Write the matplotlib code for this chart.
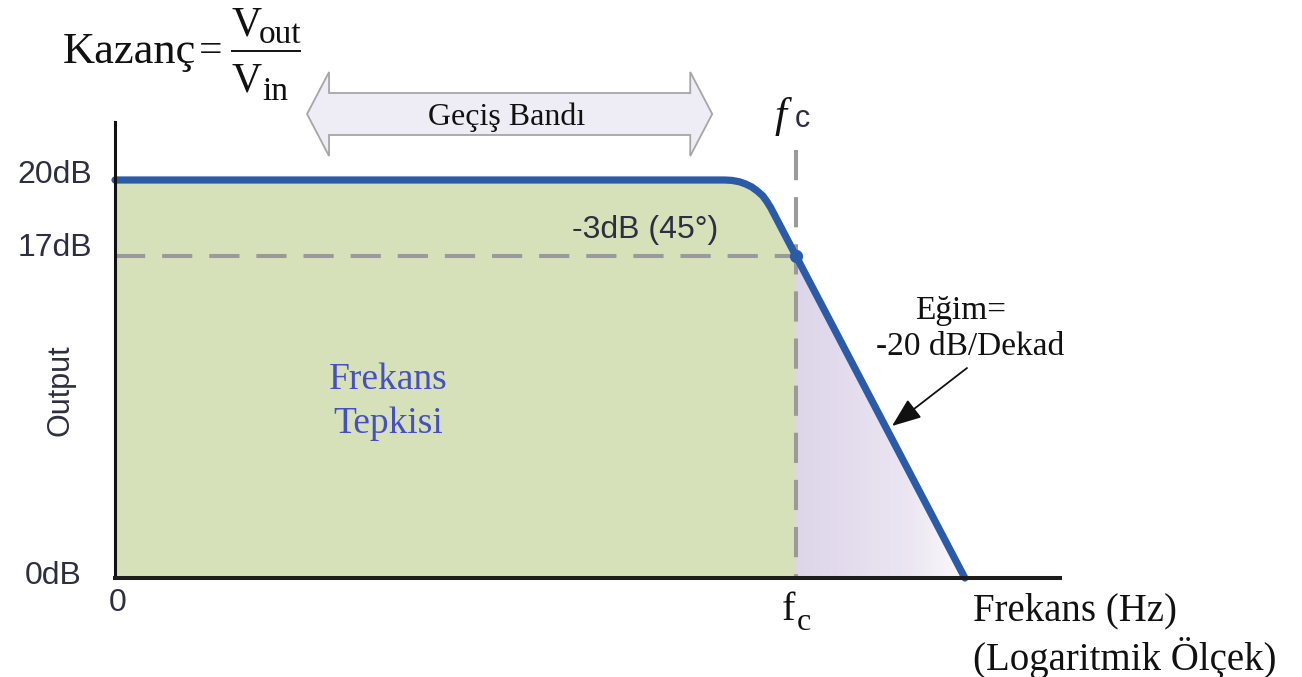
import numpy as np
import matplotlib
matplotlib.use("Agg")
import matplotlib.pyplot as plt
from matplotlib.patches import Polygon
import matplotlib.colors as mcolors

# ---------------- data (schematic Bode magnitude plot) ----------------
freq = [0.0, 0.895, 0.906, 0.917, 0.926, 0.935, 0.943, 0.951, 0.957, 0.963, 1.0, 1.248]  # relative log-frequency (fc = 1)
gain = [20.0, 20.0, 19.98, 19.91, 19.80, 19.65, 19.45, 19.21, 18.93, 18.6, 16.18, 0.0]   # output level
fc = 1.0
cutoff_level = 16.18
ytick_values = [20.0, 16.18, 0.0]
ytick_labels = ["20dB", "17dB", "0dB"]
xtick_values = [0.0]
xtick_labels = ["0"]
passband = [0.282, 0.877]

# ---------------- pixel helpers (layout only) ----------------
W, H = 1302, 677
X0, SX, Y0, SY = 115.0, 681.0, 578.0, 19.9
def X(px): return (px - X0) / SX
def Y(py): return (Y0 - py) / SY

fig = plt.figure(figsize=(W / 100, H / 100), dpi=100)
ax = fig.add_axes([0, 0, 1, 1])
ax.set_xlim(X(0), X(W))
ax.set_ylim(Y(H), Y(0))
ax.set_xticks([]); ax.set_yticks([])
for s in ("top", "right"):
    ax.spines[s].set_visible(False)
ax.spines["left"].set_position(("data", 0))
ax.spines["bottom"].set_position(("data", 0))
ax.spines["left"].set_bounds(0, Y(122))
ax.spines["bottom"].set_bounds(0, X(1060))
ax.spines["left"].set_linewidth(2.2)
ax.spines["left"].set_color("#111111")
ax.spines["bottom"].set_linewidth(2.9)
ax.spines["bottom"].set_color("#1c1c1c")
ax.spines["left"].set_zorder(6)
ax.spines["bottom"].set_zorder(6)

GREEN = "#d6e0b9"
BLUE = "#2b5ba6"
SANS = "Liberation Sans"
SERIF = "Liberation Serif"
DARK = "#2e2e40"

ic = freq.index(fc)
# green pass-band fill
ax.fill_between(freq[:ic + 1], gain[:ic + 1], 0, color=GREEN, lw=0, zorder=1)
# purple gradient fill beyond fc
poly = ax.fill_between(freq[ic:], gain[ic:], 0, color="none", lw=0, zorder=1)
cmap = mcolors.LinearSegmentedColormap.from_list("g", ["#ddd5e9", "#e4ddee", "#ebe6f2", "#fbfafd"])
grad = np.linspace(0, 1, 256).reshape(1, -1)
im = ax.imshow(grad, cmap=cmap, aspect="auto", extent=[fc, freq[-1], 0, cutoff_level],
               origin="lower", zorder=1, interpolation="bilinear")
im.set_clip_path(poly.get_paths()[0], transform=ax.transData)

# dashed guide lines
ax.plot([0, fc], [cutoff_level, cutoff_level], color="#9a9a9a", lw=2.9,
        dashes=(7.5, 4.2), zorder=3)
ax.plot([fc, fc], [Y(150), 0], color="#9a9a9a", lw=2.9,
        dashes=(7.5, 4.2), zorder=3)

# response curve
ax.plot(freq, gain, color=BLUE, lw=5.2, solid_capstyle="round",
        solid_joinstyle="round", zorder=4)
ax.plot([fc], [cutoff_level], "o", color=BLUE, ms=8.5, zorder=5)

# y tick labels
ylab_offsets = [(92, 5), (92, 8), (82, 2)]
for v, lab, (rx, up) in zip(ytick_values, ytick_labels, ylab_offsets):
    ax.text(X(rx), v + up / SY, lab, ha="right", va="center", fontsize=23,
            family=SANS, color=DARK)
for v, lab in zip(xtick_values, xtick_labels):
    ax.text(v + 3 / SX, Y(603), lab, ha="center", va="center", fontsize=23,
            family=SANS, color=DARK)

# axis labels
ax.text(X(60), Y(390), "Output", rotation=90, ha="center", va="center",
        fontsize=22, family=SANS, color=DARK)
ax.text(X(973), Y(620), "Frekans (Hz)", ha="left", va="baseline",
        fontsize=28, family=SERIF, color="#111111")
ax.text(X(973), Y(670), "(Logaritmik Ölçek)", ha="left", va="baseline",
        fontsize=28, family=SERIF, color="#111111")
# fc under the axis
ax.text(X(782), Y(620), "f", ha="left", va="baseline", fontsize=29,
        family=SERIF, color="#111111")
ax.text(X(797), Y(630), "c", ha="left", va="baseline", fontsize=23,
        family=SERIF, color="#111111")
# fc at top
ax.text(X(775), Y(127), "f", ha="left", va="baseline", fontsize=31,
        family=SERIF, style="italic", color="#111111")
ax.text(X(795), Y(127), "c", ha="left", va="baseline", fontsize=22,
        family=SANS, color=DARK)

# gain formula
ax.text(X(63), Y(63), "Kazanç", ha="left", va="baseline", fontsize=32,
        family=SERIF, color="#111111")
ax.text(X(199), Y(62), "=", ha="left", va="baseline", fontsize=30,
        family=SERIF, color="#111111")
ax.plot([X(232), X(300)], [Y(51), Y(51)], color="#111111", lw=1.4, zorder=5)
ax.text(X(232), Y(35), "V", ha="left", va="baseline", fontsize=30,
        family=SERIF, color="#111111")
ax.text(X(259), Y(43), "out", ha="left", va="baseline", fontsize=24,
        family=SERIF, color="#111111")
ax.text(X(232), Y(92), "V", ha="left", va="baseline", fontsize=30,
        family=SERIF, color="#111111")
ax.text(X(262), Y(100), "in", ha="left", va="baseline", fontsize=24,
        family=SERIF, color="#111111")

# pass-band double arrow
xl, xr = passband
hl = 22 / SX
yc, sh, hh = 114, 21, 42
verts = [(xl, Y(yc)), (xl + hl, Y(yc - hh)), (xl + hl, Y(yc - sh)),
         (xr - hl, Y(yc - sh)), (xr - hl, Y(yc - hh)), (xr, Y(yc)),
         (xr - hl, Y(yc + hh)), (xr - hl, Y(yc + sh)), (xl + hl, Y(yc + sh)),
         (xl + hl, Y(yc + hh))]
ax.add_patch(Polygon(verts, closed=True, facecolor="#eeecf4", edgecolor="#a6a6a6",
                     lw=1.3, zorder=2))
ax.text((xl + xr) / 2 - 3 / SX, Y(125), "Geçiş Bandı", ha="center", va="baseline",
        fontsize=23, family=SERIF, color="#111111")

# annotations in plot
ax.text(X(645), Y(238), "-3dB (45°)", ha="center", va="baseline", fontsize=23,
        family=SANS, color=DARK)
ax.text(X(388), Y(389), "Frekans", ha="center", va="baseline", fontsize=27,
        family=SERIF, color="#4650c0")
ax.text(X(388), Y(433), "Tepkisi", ha="center", va="baseline", fontsize=27,
        family=SERIF, color="#4650c0")
ax.text(X(961), Y(319), "Eğim=", ha="center", va="baseline", fontsize=24,
        family=SERIF, color="#111111")
ax.text(X(970), Y(355), "-20 dB/Dekad", ha="center", va="baseline", fontsize=24,
        family=SERIF, color="#111111")
ax.annotate("", xy=(X(892), Y(426)), xytext=(X(967), Y(368)),
            arrowprops=dict(arrowstyle="-|>,head_length=0.9,head_width=0.35",
                            color="#111111", lw=1.3, mutation_scale=20,
                            shrinkA=0, shrinkB=0), zorder=6)

fig.savefig("out.png", dpi=100)
